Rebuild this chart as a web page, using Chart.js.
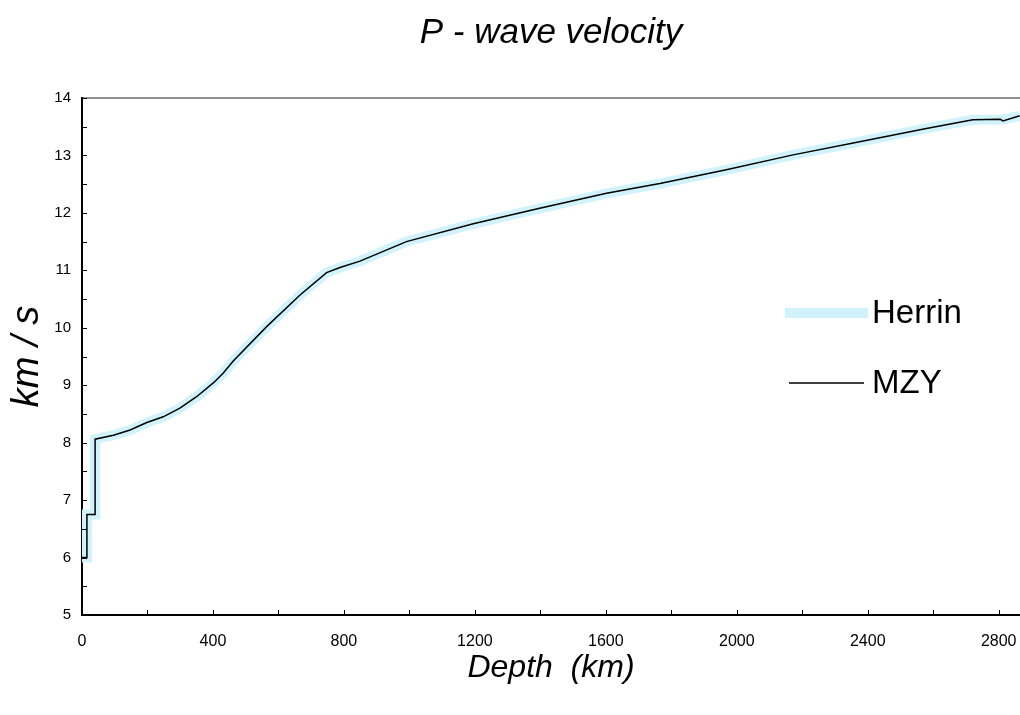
<!DOCTYPE html>
<html>
<head>
<meta charset="utf-8">
<script src="https://cdn.jsdelivr.net/npm/chart.js@4.4.1/dist/chart.umd.min.js"></script>
<style>
  html, body { margin: 0; padding: 0; background: #fff; }
  #wrap { width: 1020px; height: 715px; }
</style>
</head>
<body>
<div id="wrap"><canvas id="myChart" width="1020" height="715"></canvas></div>
<script>
// depth in km, velocity in km/s
const herrinDepth = [0, 15, 15, 40, 40, 96, 147, 198, 248, 299, 350, 401, 431, 462, 564, 666, 747, 788, 849, 991, 1195, 1398, 1602, 1765, 1968, 2172, 2375, 2579, 2721, 2808, 2864];
const herrinVel   = [6.0, 6.0, 6.75, 6.75, 8.06, 8.13, 8.22, 8.35, 8.45, 8.60, 8.80, 9.04, 9.21, 9.42, 10.02, 10.57, 10.96, 11.05, 11.16, 11.50, 11.81, 12.08, 12.34, 12.51, 12.75, 13.01, 13.24, 13.47, 13.62, 13.62, 13.69];

const mzyDepth = [0, 15, 15, 40, 40, 96, 147, 198, 248, 299, 350, 401, 431, 462, 564, 666, 747, 788, 849, 991, 1195, 1398, 1602, 1765, 1968, 2172, 2375, 2579, 2721, 2805, 2813, 2864];
const mzyVel   = [6.0, 6.0, 6.75, 6.75, 8.06, 8.13, 8.22, 8.35, 8.45, 8.60, 8.80, 9.04, 9.21, 9.42, 10.02, 10.57, 10.96, 11.05, 11.16, 11.50, 11.81, 12.08, 12.34, 12.51, 12.75, 13.01, 13.24, 13.47, 13.62, 13.63, 13.60, 13.69];

const xTicks = [0, 400, 800, 1200, 1600, 2000, 2400, 2800];
const yTicks = [5, 6, 7, 8, 9, 10, 11, 12, 13, 14];
const xMinorStep = 200;
const yMinorStep = 0.5;

const fontFam = '"Liberation Sans", Arial, sans-serif';

function toPoints(xs, ys) {
    return xs.map(function(x, i) {
        return { x: x, y: ys[i] };
    });
}

// speckled light cyan, like the original wide line
function makeSpeckle() {
    const c = document.createElement('canvas');
    c.width = 2;
    c.height = 2;
    const g = c.getContext('2d');
    g.fillStyle = 'rgb(196, 239, 251)';
    g.fillRect(0, 0, 2, 2);
    g.fillStyle = 'rgb(220, 246, 253)';
    g.fillRect(0, 0, 1, 1);
    g.fillRect(1, 1, 1, 1);
    return g.createPattern(c, 'repeat');
}

// tick marks drawn inside the plot, like the original
const insideTicks = {
    id: 'insideTicks',
    afterDraw(chart) {
        const ctx = chart.ctx;
        const xs = chart.scales.x;
        const ys = chart.scales.y;
        const area = chart.chartArea;
        ctx.save();
        ctx.strokeStyle = '#000';
        ctx.lineWidth = 1;
        for (let v = xs.min; v <= xs.max; v += xMinorStep) {
            const px = Math.round(xs.getPixelForValue(v)) + 0.5;
            ctx.beginPath();
            ctx.moveTo(px, area.bottom);
            ctx.lineTo(px, area.bottom - 5);
            ctx.stroke();
        }
        for (let v = ys.min; v <= ys.max; v += yMinorStep) {
            const py = Math.round(ys.getPixelForValue(v)) + 0.5;
            ctx.beginPath();
            ctx.moveTo(area.left, py);
            ctx.lineTo(area.left + 5, py);
            ctx.stroke();
        }
        ctx.restore();
    }
};

// legend placed inside the plot on the right
const sideLegend = {
    id: 'sideLegend',
    afterDraw(chart) {
        const ctx = chart.ctx;
        const rows = [
            { ds: chart.data.datasets[0], y: 313, x0: 785, x1: 868 },
            { ds: chart.data.datasets[1], y: 383, x0: 789, x1: 864 }
        ];
        ctx.save();
        rows.forEach(function(r) {
            ctx.strokeStyle = r.ds.borderColor;
            ctx.lineWidth = r.ds.borderWidth;
            ctx.beginPath();
            ctx.moveTo(r.x0, r.y);
            ctx.lineTo(r.x1, r.y);
            ctx.stroke();
            ctx.fillStyle = '#000';
            ctx.font = '33px ' + fontFam;
            ctx.textBaseline = 'middle';
            ctx.fillText(r.ds.label, 872, r.y + 1);
        });
        ctx.restore();
    }
};

const ctx = document.getElementById('myChart').getContext('2d');

const chart = new Chart(ctx, {
    type: 'scatter',
    data: {
        datasets: [{
            label: 'Herrin',
            data: toPoints(herrinDepth, herrinVel),
            showLine: true,
            borderColor: makeSpeckle(),
            borderWidth: 10,
            pointRadius: 0,
            tension: 0,
            order: 2
        }, {
            label: 'MZY',
            data: toPoints(mzyDepth, mzyVel),
            showLine: true,
            borderColor: '#000',
            borderWidth: 1.5,
            pointRadius: 0,
            tension: 0,
            order: 1
        }]
    },
    options: {
        responsive: false,
        animation: false,
        layout: { padding: 0 },
        scales: {
            x: {
                type: 'linear',
                min: 0,
                max: 2865,
                afterBuildTicks: function(scale) {
                    scale.ticks = xTicks.map(function(v) { return { value: v }; });
                },
                afterFit: function(scale) {
                    scale.height = 100;
                    scale.paddingLeft = 0;
                    scale.paddingRight = 0;
                },
                ticks: {
                    color: '#000',
                    padding: 17,
                    maxRotation: 0,
                    font: { family: fontFam, size: 16 },
                    callback: function(v) { return String(v); }
                },
                grid: { display: false, drawTicks: false },
                border: { display: true, color: '#000', width: 2 },
                title: {
                    display: true,
                    text: 'Depth  (km)',
                    color: '#000',
                    font: { family: fontFam, size: 32, style: 'italic' },
                    padding: { top: 0, bottom: 28 }
                }
            },
            y: {
                type: 'linear',
                min: 5,
                max: 14,
                afterBuildTicks: function(scale) {
                    scale.ticks = yTicks.map(function(v) { return { value: v }; });
                },
                afterFit: function(scale) {
                    scale.width = 82;
                },
                ticks: {
                    color: '#000',
                    padding: 11,
                    font: { family: fontFam, size: 15 },
                    callback: function(v) { return String(v); }
                },
                grid: {
                    drawTicks: false,
                    lineWidth: 2,
                    color: function(c) {
                        return c.tick && c.tick.value === 14 ? '#909090' : 'rgba(0,0,0,0)';
                    }
                },
                border: { display: true, color: '#000', width: 2 },
                title: {
                    display: true,
                    text: 'km / s',
                    color: '#000',
                    font: { family: fontFam, size: 38, style: 'italic' },
                    padding: { top: 5, bottom: 5 }
                }
            }
        },
        plugins: {
            legend: { display: false },
            tooltip: { enabled: false },
            title: {
                display: true,
                fullSize: false,
                text: 'P - wave velocity',
                color: '#000',
                font: { family: fontFam, size: 35, style: 'italic', weight: 'normal' },
                padding: { top: 12, bottom: 44 }
            }
        }
    },
    plugins: [insideTicks, sideLegend]
});
</script>
</body>
</html>
